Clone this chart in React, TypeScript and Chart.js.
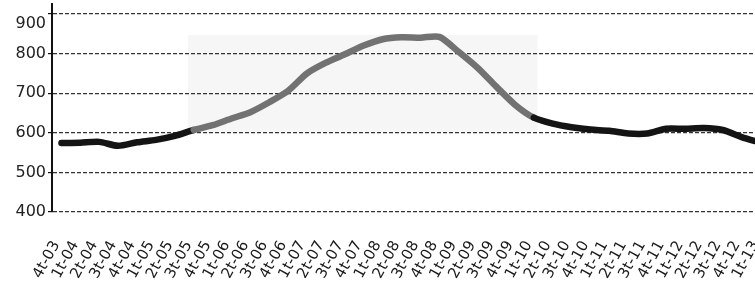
import React, { useEffect, useRef } from "react";
import { Chart, registerables } from "chart.js";

Chart.register(...registerables);

const labels = [
  "4t-03", "1t-04", "2t-04", "3t-04", "4t-04", "1t-05", "2t-05", "3t-05", "4t-05",
  "1t-06", "2t-06", "3t-06", "4t-06", "1t-07", "2t-07", "3t-07", "4t-07",
  "1t-08", "2t-08", "3t-08", "4t-08", "1t-09", "2t-09", "3t-09", "4t-09",
  "1t-10", "2t-10", "3t-10", "4t-10", "1t-11", "2t-11", "3t-11", "4t-11",
  "1t-12", "2t-12", "3t-12", "4t-12", "1t-13",
];

const values = [
  574, 575, 577, 567, 576, 582, 592, 607, 619,
  636, 652, 677, 706, 750, 777, 798, 820,
  836, 841, 840, 842, 805, 765, 717, 671,
  638, 623, 614, 608, 605, 598, 598, 610,
  610, 612, 607, 589, 575,
];

const yTicks = [400, 500, 600, 700, 800, 900];
const Y_MIN = 400;
const Y_MAX = 925;

// gray (faded) stretch of the line, by point index
const GRAY_FROM = 7;
const GRAY_TO = 25;

// faint shaded band behind the middle part (category index / value range)
const SHADE_X = [6.7, 25.2];
const SHADE_Y = [600, 847];

const shadePlugin = {
  id: "shade",
  beforeDraw(chart: any) {
    const { ctx, scales } = chart;
    const x = scales.x;
    const y = scales.y;
    const l = x.getPixelForValue(SHADE_X[0]);
    const r = x.getPixelForValue(SHADE_X[1]);
    const t = y.getPixelForValue(SHADE_Y[1]);
    const b = y.getPixelForValue(SHADE_Y[0]);
    ctx.save();
    ctx.fillStyle = "#f6f6f6";
    ctx.fillRect(l, t, r - l, b - t);
    ctx.restore();
  },
};

export default function App() {
  const ref = useRef<HTMLCanvasElement>(null);

  useEffect(() => {
    if (!ref.current) return;
    const chart = new Chart(ref.current, {
      type: "line",
      data: {
        labels,
        datasets: [
          {
            data: values,
            borderColor: "#141414",
            borderWidth: 6.5,
            pointRadius: 0,
            tension: 0.25,
            borderCapStyle: "round",
            borderJoinStyle: "round",
            segment: {
              borderColor: (c: any) =>
                c.p0DataIndex >= GRAY_FROM && c.p1DataIndex <= GRAY_TO ? "#727272" : "#141414",
            },
          },
        ],
      },
      options: {
        responsive: false,
        animation: false,
        layout: { padding: { top: 4, left: 0, right: 2, bottom: 0 } },
        plugins: { legend: { display: false }, tooltip: { enabled: false } },
        scales: {
          x: {
            offset: true,
            grid: { display: false },
            border: { display: false },
            ticks: {
              autoSkip: false,
              minRotation: 61,
              maxRotation: 61,
              padding: 18,
              labelOffset: -5,
              color: "#1a1a1a",
              font: { family: "DejaVu Sans", size: 15 },
            },
            afterFit: (s: any) => {
              s.height = 70;
              s.paddingLeft = 0;
              s.paddingRight = 0;
            },
          },
          y: {
            min: Y_MIN,
            max: Y_MAX,
            afterBuildTicks: (s: any) => {
              s.ticks = yTicks.map((v) => ({ value: v }));
            },
            afterFit: (s: any) => {
              s.width = 52;
              s.paddingTop = 0;
              s.paddingBottom = 0;
            },
            border: { display: true, color: "#111", width: 2, dash: [4, 2] },
            grid: {
              color: "#333",
              lineWidth: 1.2,
              tickLength: 4,
              tickColor: "#111",
              tickBorderDash: [],
            },
            ticks: {
              padding: 2,
              color: "#222",
              font: { family: "DejaVu Sans", size: 16 },
              callback: (v: any) => (v === 900 ? ["", "900"] : String(v)),
            },
          },
        },
      },
      plugins: [shadePlugin],
    });
    return () => chart.destroy();
  }, []);

  return (
    <div
      style={{
        position: "fixed",
        left: 0,
        top: 0,
        width: 755,
        height: 282,
        overflow: "hidden",
        background: "#fff",
      }}
    >
      <canvas ref={ref} width={772} height={282} style={{ display: "block" }} />
    </div>
  );
}
